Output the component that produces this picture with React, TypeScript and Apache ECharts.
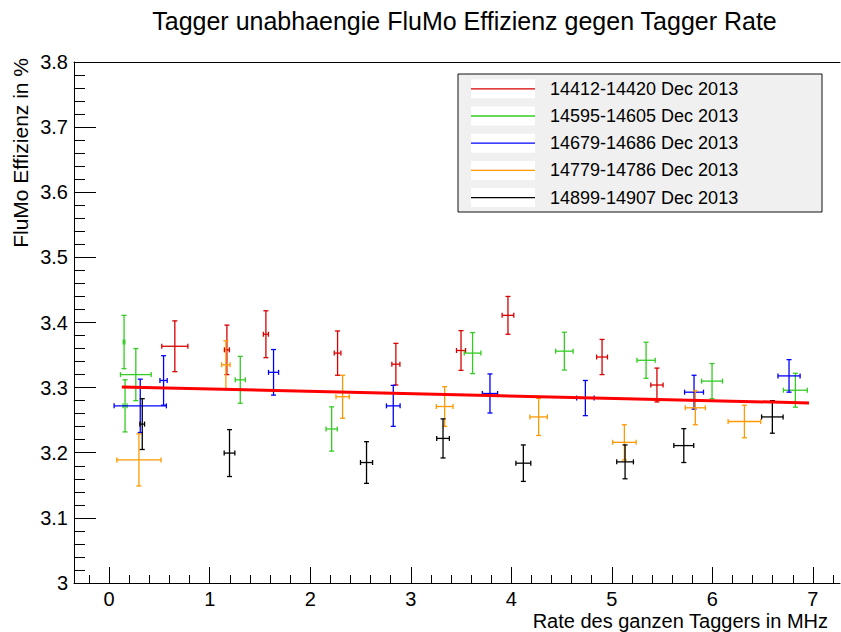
import React, { useEffect, useRef } from "react";
import * as echarts from "echarts";

const chartTitle = "Tagger unabhaengie FluMo Effizienz gegen Tagger Rate";
const xTitle = "Rate des ganzen Taggers in MHz";
const yTitle = "FluMo Effizienz in %";

const seriesNames = [
  "14412-14420 Dec 2013",
  "14595-14605 Dec 2013",
  "14679-14686 Dec 2013",
  "14779-14786 Dec 2013",
  "14899-14907 Dec 2013",
];
const seriesColors = ["#d80000", "#33cc22", "#0000ff", "#ff9900", "#000000"];

// run range 14412-14420
const redX = [0.653, 1.171, 1.559, 2.272, 2.852, 3.5, 3.967, 4.903, 5.449];
const redY = [3.3635, 3.358, 3.382, 3.353, 3.336, 3.357, 3.411, 3.347, 3.304];
const redXErr = [0.13, 0.025, 0.025, 0.033, 0.04, 0.045, 0.058, 0.054, 0.061];
const redYErr = [0.039, 0.038, 0.036, 0.034, 0.032, 0.0305, 0.029, 0.027, 0.026];

// run range 14595-14605
const greenX = [0.148, 0.265, 0.158, 1.304, 2.213, 3.615, 4.528, 5.341, 5.997, 6.826];
const greenY = [3.37, 3.32, 3.272, 3.312, 3.2365, 3.353, 3.356, 3.342, 3.31, 3.296];
const greenXErr = [0.008, 0.153, 0.02, 0.05, 0.056, 0.083, 0.087, 0.091, 0.104, 0.119];
const greenYErr = [0.041, 0.04, 0.04, 0.036, 0.034, 0.0315, 0.029, 0.0277, 0.027, 0.026];

// run range 14679-14686
const blueX = [0.309, 0.541, 1.635, 2.826, 3.788, 4.737, 5.818, 6.763];
const blueY = [3.272, 3.311, 3.3235, 3.272, 3.291, 3.284, 3.293, 3.318];
const blueXErr = [0.26, 0.036, 0.05, 0.068, 0.076, 0.087, 0.094, 0.11];
const blueYErr = [0.041, 0.038, 0.035, 0.0315, 0.03, 0.027, 0.026, 0.025];

// run range 14779-14786
const orangeX = [0.296, 1.161, 2.322, 3.337, 4.272, 5.125, 5.831, 6.319];
const orangeY = [3.189, 3.335, 3.286, 3.271, 3.255, 3.216, 3.269, 3.248];
const orangeXErr = [0.22, 0.042, 0.066, 0.083, 0.087, 0.117, 0.1, 0.162];
const orangeYErr = [0.04, 0.037, 0.033, 0.0305, 0.0285, 0.027, 0.026, 0.025];

// run range 14899-14907
const blackX = [0.329, 1.197, 2.56, 3.321, 4.12, 5.132, 5.716, 6.597];
const blackY = [3.244, 3.1995, 3.185, 3.222, 3.184, 3.186, 3.211, 3.255];
const blackXErr = [0.023, 0.053, 0.06, 0.063, 0.074, 0.083, 0.099, 0.107];
const blackYErr = [0.039, 0.036, 0.032, 0.03, 0.028, 0.026, 0.026, 0.025];

// linear fit
const fitX = [0.126, 6.962];
const fitY = [3.301, 3.2765];

// axes
const xMin = -0.35;
const xMax = 7.27;
const xMajorTicks = [0, 1, 2, 3, 4, 5, 6, 7];
const xMinorTicks = [-0.2, 0.2, 0.4, 0.6, 0.8, 1.2, 1.4, 1.6, 1.8, 2.2, 2.4, 2.6, 2.8, 3.2, 3.4, 3.6, 3.8, 4.2, 4.4, 4.6, 4.8, 5.2, 5.4, 5.6, 5.8, 6.2, 6.4, 6.6, 6.8, 7.2];
const yMin = 3;
const yMax = 3.8;
const yStep = 0.1;

const FONT = "'Liberation Sans', Arial, Helvetica, sans-serif";

const allX = [redX, greenX, blueX, orangeX, blackX];
const allY = [redY, greenY, blueY, orangeY, blackY];
const allXErr = [redXErr, greenXErr, blueXErr, orangeXErr, blackXErr];
const allYErr = [redYErr, greenYErr, blueYErr, orangeYErr, blackYErr];

function makeErrorSeries(idx: number) {
  const color = seriesColors[idx];
  const data = allX[idx].map((x, i) => [x, allY[idx][i], allXErr[idx][i], allYErr[idx][i]]);
  return {
    type: "custom",
    name: seriesNames[idx],
    data,
    encode: { x: 0, y: 1 },
    renderItem: (params: any, api: any) => {
      const x = api.value(0);
      const y = api.value(1);
      const ex = api.value(2);
      const ey = api.value(3);
      const c = api.coord([x, y]);
      const l = api.coord([x - ex, y]);
      const r = api.coord([x + ex, y]);
      const t = api.coord([x, y + ey]);
      const b = api.coord([x, y - ey]);
      const cap = 2.5;
      const style = { stroke: color, lineWidth: 1.3 };
      const ln = (x1: number, y1: number, x2: number, y2: number) => ({
        type: "line",
        shape: { x1, y1, x2, y2 },
        style,
      });
      return {
        type: "group",
        children: [
          ln(l[0], c[1], r[0], c[1]),
          ln(c[0], t[1], c[0], b[1]),
          ln(c[0] - cap, t[1], c[0] + cap, t[1]),
          ln(c[0] - cap, b[1], c[0] + cap, b[1]),
          ln(l[0], c[1] - cap, l[0], c[1] + cap),
          ln(r[0], c[1] - cap, r[0], c[1] + cap),
        ],
      };
    },
  };
}

function legendGraphic() {
  const left = 458;
  const top = 74;
  const w = 364;
  const h = 138;
  const children: any[] = [
    {
      type: "rect",
      shape: { x: left, y: top, width: w, height: h },
      style: { fill: "#f0f0f0", stroke: "#111", lineWidth: 1 },
    },
  ];
  seriesNames.forEach((name, i) => {
    const cy = 88.8 + 27.2 * i;
    children.push({
      type: "rect",
      shape: { x: 471, y: cy - 9.5, width: 64, height: 19 },
      style: { fill: "#ffffff" },
    });
    children.push({
      type: "line",
      shape: { x1: 471, y1: cy, x2: 535, y2: cy },
      style: { stroke: seriesColors[i], lineWidth: 1.3 },
    });
    children.push({
      type: "text",
      x: 550,
      y: cy,
      style: {
        text: name,
        fill: "#000",
        font: `18px ${FONT}`,
        textAlign: "left",
        textVerticalAlign: "middle",
      },
    });
  });
  return { type: "group", children };
}

export default function App() {
  const ref = useRef<HTMLDivElement>(null);
  useEffect(() => {
    if (!ref.current) return;
    const chart = echarts.init(ref.current, undefined, { renderer: "svg" });
    const axisColor = "#000";
    const option: any = {
      animation: false,
      backgroundColor: "#ffffff",
      textStyle: { fontFamily: FONT },
      grid: { left: 74, right: 1, top: 62, bottom: 49, containLabel: false },
      xAxis: [
        {
          type: "value",
          min: xMin,
          max: xMax,
          minInterval: 1,
          maxInterval: 1,
          position: "bottom",
          axisLine: { show: true, onZero: false, lineStyle: { color: axisColor, width: 1 } },
          axisTick: { show: true, inside: true, length: 16, customValues: xMajorTicks, lineStyle: { color: axisColor, width: 1 } },
          axisLabel: { show: true, customValues: xMajorTicks, margin: 6, color: "#000", fontSize: 20, lineHeight: 20, fontFamily: FONT },
          splitLine: { show: false },
        },
        {
          type: "value",
          min: xMin,
          max: xMax,
          minInterval: 1,
          maxInterval: 1,
          position: "bottom",
          axisLine: { show: false, onZero: false },
          axisTick: { show: true, inside: true, length: 8, customValues: xMinorTicks, lineStyle: { color: axisColor, width: 1 } },
          axisLabel: { show: false },
          splitLine: { show: false },
        },
        {
          type: "value",
          min: xMin,
          max: xMax,
          position: "top",
          axisLine: { show: true, onZero: false, lineStyle: { color: axisColor, width: 1 } },
          axisTick: { show: false },
          axisLabel: { show: false },
          splitLine: { show: false },
        },
      ],
      yAxis: {
        type: "value",
        min: yMin,
        max: yMax,
        interval: yStep,
        position: "left",
        axisLine: { show: true, onZero: false, lineStyle: { color: axisColor, width: 1 } },
        axisTick: { show: true, inside: true, length: 22, lineStyle: { color: axisColor, width: 1 } },
        minorTick: { show: true, splitNumber: 5, length: 11, lineStyle: { color: axisColor, width: 1 } },
        axisLabel: {
          margin: 6,
          color: "#000",
          fontSize: 20,
          fontFamily: FONT,
          formatter: (v: number) => String(Math.round(v * 10) / 10),
        },
        splitLine: { show: false },
        minorSplitLine: { show: false },
      },
      title: {
        text: chartTitle,
        left: 459.5,
        top: 3,
        textAlign: "center",
        textStyle: { fontSize: 25, fontWeight: "normal", color: "#000", fontFamily: FONT },
      },
      graphic: [
        legendGraphic(),
        {
          type: "text",
          x: 828,
          y: 621,
          style: { text: xTitle, fill: "#000", font: `20px ${FONT}`, textAlign: "right", textVerticalAlign: "middle" },
        },
        {
          type: "text",
          x: 20,
          y: 58,
          rotation: Math.PI / 2,
          style: { text: yTitle, fill: "#000", font: `21px ${FONT}`, textAlign: "right", textVerticalAlign: "middle" },
        },
      ],
      series: [
        ...seriesNames.map((_, i) => makeErrorSeries(i)),
        {
          type: "line",
          name: "fit",
          data: fitX.map((x, i) => [x, fitY[i]]),
          showSymbol: false,
          symbol: "none",
          lineStyle: { color: "#ff0000", width: 3 },
          z: 5,
        },
      ],
    };
    chart.setOption(option);
    return () => chart.dispose();
  }, []);
  return (
    <div
      ref={ref}
      style={{ position: "fixed", left: 0, top: 0, width: 841, height: 632, background: "#fff" }}
    />
  );
}
